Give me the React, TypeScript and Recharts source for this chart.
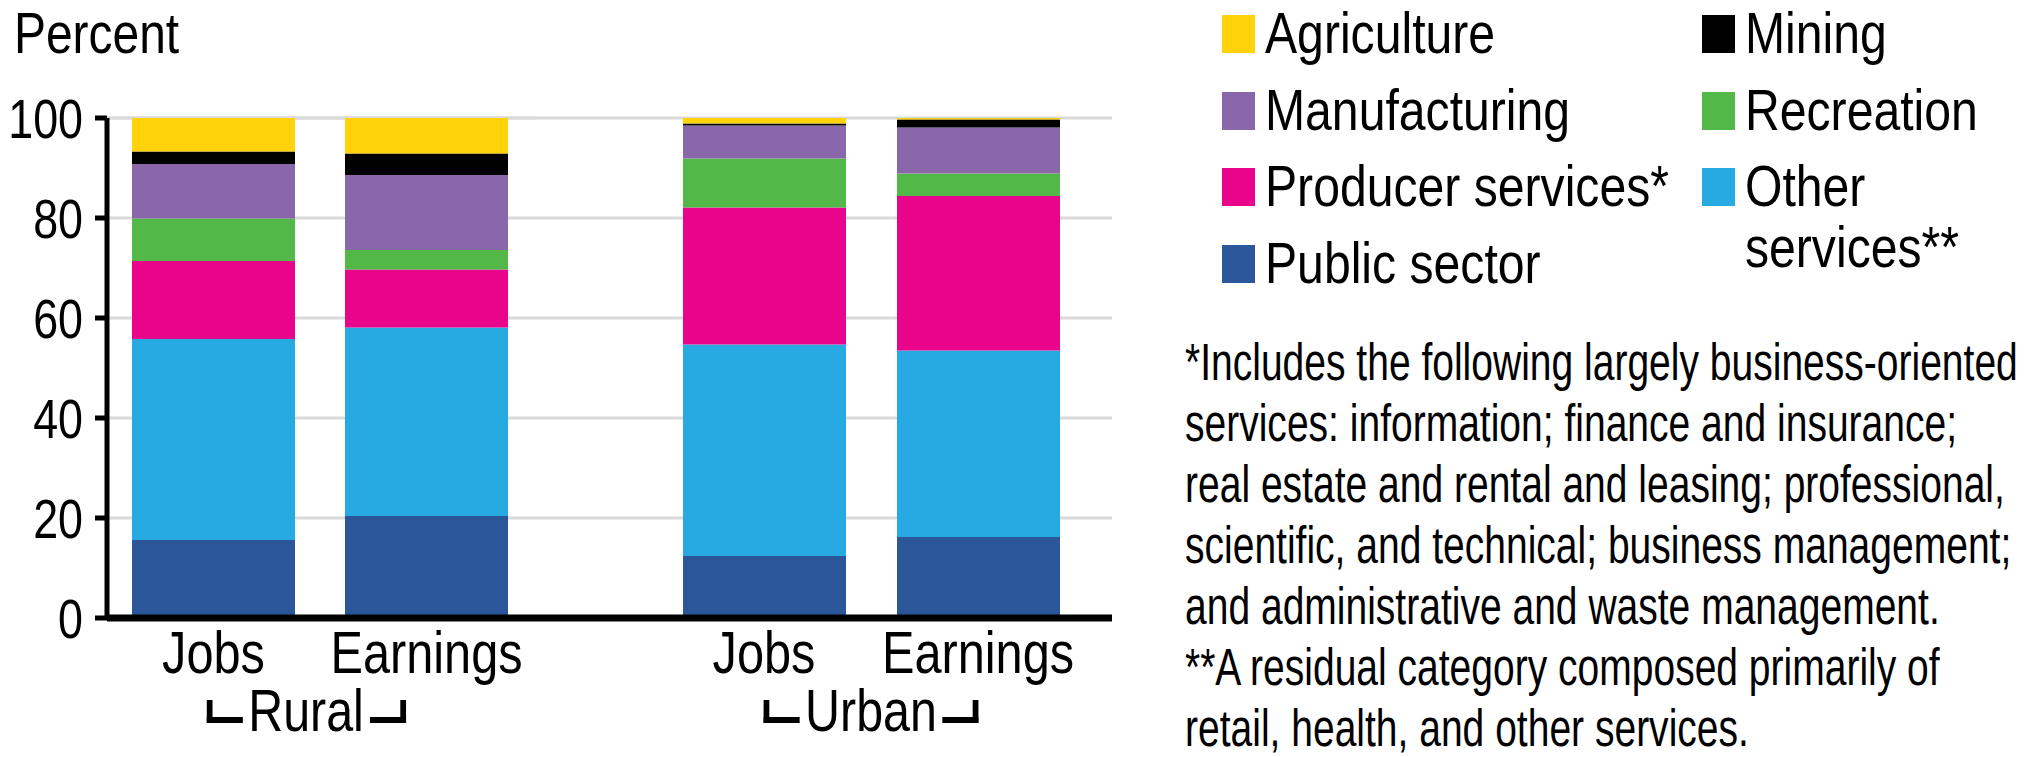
import React from "react";
import { BarChart, Bar, XAxis, YAxis, CartesianGrid } from "recharts";

// no condensed face is installed, so Liberation Sans is squeezed horizontally
const FONT = "'Liberation Sans', Arial, sans-serif";

// stacked bottom -> top
const SECTORS = [
  "Public sector",
  "Other services",
  "Producer services",
  "Recreation",
  "Manufacturing",
  "Mining",
  "Agriculture",
];
const COLORS = ["#2b579a", "#27aae1", "#e9058b", "#52b848", "#8a67ab", "#000000", "#ffd20a"];

const MEASURES = ["Jobs", "Earnings"];
const RURAL_JOBS = [15.6, 40.2, 15.6, 8.5, 10.9, 2.5, 6.7];
const RURAL_EARNINGS = [20.4, 37.7, 11.6, 3.9, 15.0, 4.3, 7.1];
const URBAN_JOBS = [12.4, 42.3, 27.4, 9.8, 6.6, 0.4, 1.1];
const URBAN_EARNINGS = [16.2, 37.3, 30.9, 4.5, 9.2, 1.6, 0.3];

const Y_TICKS = [0, 20, 40, 60, 80, 100];

const LEGEND_LEFT = ["Agriculture", "Manufacturing", "Producer services", "Public sector"];
const LEGEND_RIGHT = ["Mining", "Recreation", "Other services"];
const LEGEND_TEXT: Record<string, string[]> = {
  "Producer services": ["Producer services*"],
  "Other services": ["Other", "services**"],
};

const FOOTNOTE = [
  "*Includes the following largely business-oriented",
  "services: information; finance and insurance;",
  "real estate and rental and leasing; professional,",
  "scientific, and technical; business management;",
  "and administrative and waste management.",
  "**A residual category composed primarily of",
  "retail, health, and other services.",
];

function buildRows(jobs: number[], earnings: number[]) {
  return MEASURES.map((m, i) => {
    const vals = i === 0 ? jobs : earnings;
    const row: Record<string, number | string> = { name: m };
    SECTORS.forEach((s, j) => (row[s] = vals[j]));
    return row;
  });
}

const ruralData = buildRows(RURAL_JOBS, RURAL_EARNINGS);
const urbanData = buildRows(URBAN_JOBS, URBAN_EARNINGS);

const H = 757;
const MARGIN = { top: 118, right: 0, bottom: 79, left: 0 };
const BAR = 163;

function YTick(props: any) {
  const { x, y, payload } = props;
  return (
    <g transform={`translate(${x},${y})`}>
      <text transform="scale(0.8,1)" textAnchor="end" dy="0.355em" fontSize={56} fontFamily={FONT} fill="#000">
        {payload.value}
      </text>
    </g>
  );
}

function XTick(props: any) {
  const { x, y, payload } = props;
  return (
    <g transform={`translate(${x},${y})`}>
      <text transform="scale(0.825,1)" textAnchor="middle" dy="0.71em" fontSize={59} fontFamily={FONT} fill="#000">
        {payload.value}
      </text>
    </g>
  );
}

function Bars() {
  return SECTORS.map((s, i) => (
    <Bar key={s} dataKey={s} stackId="a" fill={COLORS[i]} barSize={BAR} isAnimationActive={false} />
  ));
}

function GroupLabel({ text, center }: { text: string; center: number }) {
  const bracket = (side: "left" | "right"): React.CSSProperties => ({
    display: "inline-block",
    boxSizing: "border-box",
    width: 44,
    height: 23,
    marginTop: 18,
    borderBottom: "6px solid #000",
    [side === "left" ? "borderLeft" : "borderRight"]: "7px solid #000",
  });
  return (
    <div
      style={{
        position: "absolute",
        left: center - 200,
        width: 400,
        top: 682,
        height: 59,
        display: "flex",
        justifyContent: "center",
        alignItems: "flex-start",
        fontSize: 59,
        lineHeight: "59px",
        transform: "scaleX(0.82)",
        transformOrigin: "center",
      }}
    >
      <span style={bracket("left")} />
      <span style={{ margin: "0 7px" }}>{text}</span>
      <span style={bracket("right")} />
    </div>
  );
}

function LegendItem({ name, x, row }: { name: string; x: number; row: number }) {
  const lines = LEGEND_TEXT[name] ?? [name];
  const baseline = 53 + row * 76.7;
  return (
    <>
      <div
        style={{
          position: "absolute",
          left: x,
          top: baseline - 38,
          width: 33,
          height: 38,
          background: COLORS[SECTORS.indexOf(name)],
        }}
      />
      <div
        style={{
          position: "absolute",
          left: x + 43,
          top: baseline - 51,
          fontSize: 58,
          lineHeight: "61px",
          whiteSpace: "nowrap",
          transform: "scaleX(0.83)",
          transformOrigin: "left",
        }}
      >
        {lines.map((l) => (
          <div key={l}>{l}</div>
        ))}
      </div>
    </>
  );
}

export default function App() {
  return (
    <div
      style={{
        position: "absolute",
        left: 0,
        top: 0,
        width: 2028,
        height: H,
        background: "#fff",
        fontFamily: FONT,
        color: "#000",
        overflow: "hidden",
      }}
    >
      <div
        style={{
          position: "absolute",
          left: 14,
          top: 4,
          fontSize: 58,
          lineHeight: "58px",
          transform: "scaleX(0.826)",
          transformOrigin: "left",
        }}
      >
        Percent
      </div>

      <div style={{ position: "absolute", left: 0, top: 0 }}>
        <BarChart width={680} height={H} data={ruralData} margin={{ ...MARGIN, right: 144 }}>
          <CartesianGrid vertical={false} stroke="#d9d9d9" strokeWidth={3} />
          <YAxis
            width={107}
            domain={[0, 100]}
            ticks={Y_TICKS}
            interval={0}
            axisLine={{ stroke: "#000", strokeWidth: 5 }}
            tickLine={{ stroke: "#000", strokeWidth: 5 }}
            tickSize={12}
            tickMargin={12}
            tick={<YTick />}
          />
          <XAxis
            dataKey="name"
            height={60}
            padding={{ left: 0, right: 3 }}
            axisLine={{ stroke: "#000", strokeWidth: 7 }}
            tickLine={false}
            tickSize={0}
            tickMargin={13}
            tick={<XTick />}
          />
          {Bars()}
        </BarChart>
      </div>

      <div style={{ position: "absolute", left: 536, top: 0 }}>
        <BarChart width={576} height={H} data={urbanData} margin={MARGIN}>
          <CartesianGrid vertical={false} stroke="#d9d9d9" strokeWidth={3} />
          <YAxis hide domain={[0, 100]} ticks={Y_TICKS} interval={0} />
          <XAxis
            dataKey="name"
            height={60}
            padding={{ left: 121, right: 27 }}
            axisLine={{ stroke: "#000", strokeWidth: 7 }}
            tickLine={false}
            tickSize={0}
            tickMargin={13}
            tick={<XTick />}
          />
          {Bars()}
        </BarChart>
      </div>

      <GroupLabel text="Rural" center={306} />
      <GroupLabel text="Urban" center={871} />

      {LEGEND_LEFT.map((n, i) => (
        <LegendItem key={n} name={n} x={1222} row={i} />
      ))}
      {LEGEND_RIGHT.map((n, i) => (
        <LegendItem key={n} name={n} x={1702} row={i} />
      ))}

      <div
        style={{
          position: "absolute",
          left: 1185,
          top: 332,
          fontSize: 51,
          lineHeight: "61px",
          whiteSpace: "nowrap",
          transform: "scaleX(0.765)",
          transformOrigin: "left",
        }}
      >
        {FOOTNOTE.map((l) => (
          <div key={l}>{l}</div>
        ))}
      </div>
    </div>
  );
}
